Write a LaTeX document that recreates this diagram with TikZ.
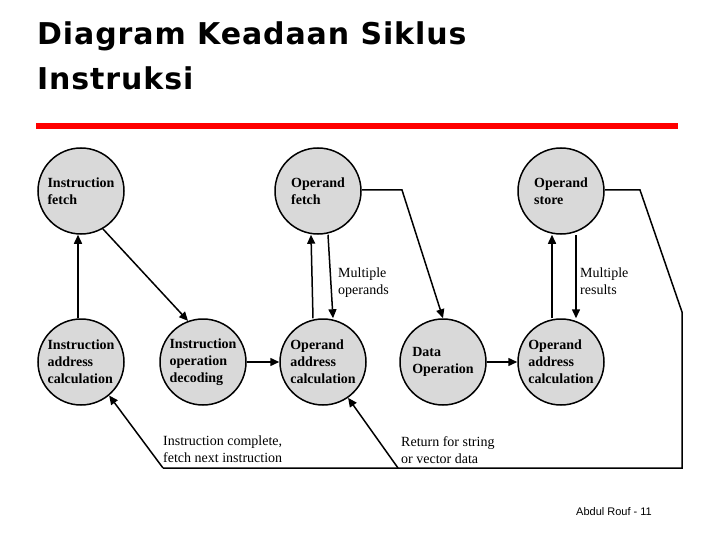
\documentclass[tikz,border=0pt]{standalone}
\usepackage{fontspec}
\setmainfont{Liberation Serif}
\newfontfamily\arialf{Liberation Sans}
\newfontfamily\titlef{DejaVu Sans}
\usetikzlibrary{arrows.meta}
\begin{document}
\begin{tikzpicture}[x=1pt,y=-1pt,
  st/.style={circle,draw,line width=1.5pt,fill=black!15,minimum size=86pt,inner sep=0pt,align=left,font=\bfseries\fontsize{14}{17}\selectfont},
  ar/.style={line width=1.5pt,-{Triangle[length=9pt,width=8pt]}},
  ln/.style={line width=1.5pt},
  lb/.style={align=left,anchor=north west,inner sep=0pt,font=\fontsize{14}{17}\selectfont}]
\useasboundingbox (0,0) rectangle (720,540);
\node[anchor=north west,inner sep=0pt,align=left,font=\titlef\bfseries\fontsize{30}{45}\selectfont\addfontfeature{LetterSpace=3}] (title) at (37,22) {Diagram Keadaan Siklus\\Instruksi};
\fill[red] (36,123) rectangle (678,129);
\node (IF) [st] at (81,191) {Instruction\\fetch};
\node (OF) [st] at (318,191) {Operand\\fetch};
\node (OS) [st] at (561,191) {Operand\\store};
\node (IAC) [st] at (81,362) {Instruction\\address\\calculation};
\node (IOD) [st] at (203,362) {Instruction\\operation\\decoding};
\node (OAC) [st] at (323,362) {Operand\\address\\calculation};
\node (DO) [st] at (443,362) {Data\\Operation};
\node (OAC2) [st] at (561,362) {Operand\\address\\calculation};
\draw[ar] (IAC.north -| 78,0) -- (IF.south -| 78,0);
\draw[ar] (IF.-60) -- (IOD.110);
\draw[ar] (IOD) -- (OAC);
\draw[ar] (DO) -- (OAC2);
\draw[ar] ([xshift=-10pt]OAC.north) -- ([xshift=-7pt]OF.south);
\draw[ar] ([xshift=10pt]OF.south) -- ([xshift=10pt]OAC.north);
\draw[ar] ([xshift=-9pt]OAC2.north) -- ([xshift=-9pt]OS.south);
\draw[ar] ([xshift=15pt]OS.south) -- ([xshift=15pt]OAC2.north);
\node[lb] (mo) at (338,268) {Multiple\\operands};
\node[lb] (mr) at (580,268) {Multiple\\results};
\coordinate (a1) at (402,190);
\draw[ar] (OF.east |- a1) -- (a1) -- (DO.north);
\coordinate (b1) at (640,190);
\coordinate (b2) at (682,312);
\coordinate (b3) at (682,468);
\coordinate (b4) at (163,468);
\coordinate (b5) at (398,468);
\draw[ln] (OS.east |- b1) -- (b1) -- (b2) -- (b3) -- (b4);
\draw[ar] (b4) -- (IAC.-50);
\draw[ar] (b5) -- (OAC.-55);
\node[lb] (ic) at (163,436) {Instruction complete,\\fetch next instruction};
\node[lb] (rs) at (401,436) {Return for string\\or vector data};
\node[anchor=west,inner sep=0pt,font=\arialf\fontsize{11}{13}\selectfont] (ft) at (576,512) {Abdul Rouf - 11};
\end{tikzpicture}
\end{document}
